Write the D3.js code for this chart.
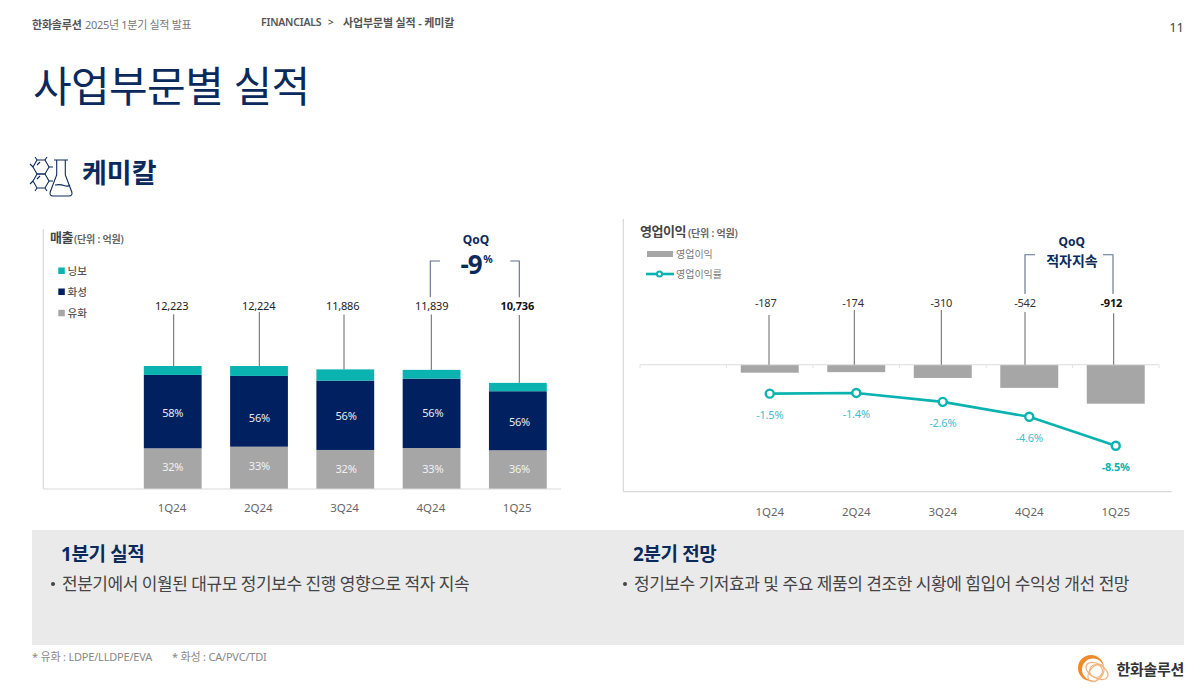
<!DOCTYPE html>
<html lang="ko">
<head>
<meta charset="utf-8">
<title>사업부문별 실적</title>
<script src="https://cdn.jsdelivr.net/npm/d3@7"></script>
<style>
	html, body { margin: 0; padding: 0; background: #fff; }
	svg { display: block; }
	text { font-family: "Noto Sans", "Noto Sans CJK KR", sans-serif; }
</style>
</head>
<body>
<svg id="chart" width="1204" height="700"></svg>
<script>
"use strict";

// 공통 분기
var salesCategories = ['', '1Q24', '2Q24', '3Q24', '4Q24', '1Q25'];
var quarters = ['1Q24', '2Q24', '3Q24', '4Q24', '1Q25'];

// 매출 (단위: 억원), 막대 높이에서 읽은 값
var petroValues = [4045, 4205, 3880, 4075, 3850];
var chemValues = [7290, 7030, 6890, 6890, 5865];
var nbValues = [888, 989, 1116, 874, 830];
var salesTotals = ['12,223', '12,224', '11,886', '11,839', '10,736'];
var petroShare = ['32%', '33%', '32%', '33%', '36%'];
var chemShare = ['58%', '56%', '56%', '56%', '56%'];

// 영업이익
var profitValues = [-187, -174, -310, -542, -912];
var marginValues = [-1.5, -1.4, -2.6, -4.6, -8.5];
var marginLabels = ['-1.5%', '-1.4%', '-2.6%', '-4.6%', '-8.5%'];

var TEAL = '#0ab3b0';
var NAVY = '#00205f';
var GRAY = '#a6a6a6';
var TITLE = '#0b2a5c';
var BRACKET = '#5f6f8c';
var AXIS = '#d9d9d9';

var svg = d3.select('#chart');

function label(parent, x, y, str, size, fill, weight, anchor, spacing) {
	return parent.append('text')
		.attr('x', x)
		.attr('y', y)
		.attr('dominant-baseline', 'central')
		.attr('text-anchor', anchor || 'start')
		.attr('font-size', size)
		.attr('font-weight', weight || 400)
		.attr('letter-spacing', spacing || 0)
		.attr('fill', fill)
		.text(str);
}

function rule(parent, x1, y1, x2, y2, color, width) {
	parent.append('line')
		.attr('x1', x1).attr('y1', y1)
		.attr('x2', x2).attr('y2', y2)
		.attr('stroke', color)
		.attr('stroke-width', width || 1);
}

function bracket(parent, x1, inner1, x2, inner2, top, bottom) {
	var line = d3.line();
	[[inner1, x1], [inner2, x2]].forEach(function (pair) {
		parent.append('path')
			.attr('d', line([[pair[0], top], [pair[1], top], [pair[1], bottom]]))
			.attr('fill', 'none')
			.attr('stroke', BRACKET)
			.attr('stroke-width', 1.1);
	});
}

function drawHeader() {
	var g = svg.append('g');
	label(g, 32, 24, '한화솔루션', 11, '#555', 700, 'start', -0.2);
	label(g, 85, 24, '2025년 1분기 실적 발표', 11, '#777', 400, 'start', -0.3);
	label(g, 261, 22, 'FINANCIALS', 10.5, '#555', 600, 'start', -0.2);
	label(g, 328, 22, '>', 10, '#555', 600);
	label(g, 343, 22, '사업부문별 실적 - 케미칼', 11, '#555', 700, 'start', -0.15);
	label(g, 1184, 27, '11', 13, '#444', 400, 'end');
	label(g, 33, 85, '사업부문별 실적', 42, TITLE, 400, 'start', -0.6);
	label(g, 82, 172, '케미칼', 27, TITLE, 700);
	drawFlaskIcon(g);
}

function drawFlaskIcon(g) {
	var icon = g.append('g')
		.attr('fill', 'none')
		.attr('stroke', TITLE)
		.attr('stroke-width', 1.1);
	[[41, 167], [41, 181]].forEach(function (c) {
		var pts = d3.range(6).map(function (i) {
			var a = i * Math.PI / 3;
			return [c[0] + 8 * Math.cos(a), c[1] + 8 * Math.sin(a)];
		});
		icon.append('path').attr('d', d3.line().curve(d3.curveLinearClosed)(pts));
	});
	// 분자 결합선
	icon.append('path').attr('d', 'M37 160l-2-3M45 160l2-3M49 167h4M33 167l-3-3M33 181l-3 3M49 181h4M37 188l-2 3M45 188l2 3M37 165l3-3M37 179l3-3');
	icon.append('path').attr('d', 'M54 160h14M56.700 160v15l-6.500 17q-1 4 3 4h15.600q4 0 3-4l-6.500-17v-15M55 185q5-1 9 .500t6-.500');
}

function drawSalesChart() {
	var g = svg.append('g').attr('class', 'sales');
	var baseY = 489;

	var x = d3.scaleBand()
		.domain(salesCategories)
		.range([43.3, 561])
		.paddingInner(0.33)
		.paddingOuter(0.165);
	var y = d3.scaleLinear().domain([0, 12223]).range([baseY, 366]);

	// 수동으로 옮겨진 라벨 오프셋
	var chemNudge = [1, 6, 0, -1, 1];
	var petroNudge = [-2, -2, -1, 0, -1];
	var totalTop = [314.3, 312, 314.5, 314.5, 315];
	var leaderX = [173.7, 259.3, 344, 431.3, 519.3];
	var totalX = [171.7, 258.7, 342.7, 431.7, 517.3];

	var rows = quarters.map(function (q, i) {
		return { quarter: q, petro: petroValues[i], chem: chemValues[i], nb: nbValues[i] };
	});
	var stacked = d3.stack().keys(['petro', 'chem', 'nb'])(rows);
	var colors = { petro: GRAY, chem: NAVY, nb: TEAL };

	g.selectAll('g.layer')
		.data(stacked)
		.enter().append('g')
		.attr('class', 'layer')
		.attr('fill', function (d) { return colors[d.key]; })
		.selectAll('rect')
		.data(function (d) { return d; })
		.enter().append('rect')
		.attr('x', function (d) { return x(d.data.quarter); })
		.attr('width', x.bandwidth())
		.attr('y', function (d) { return y(d[1]); })
		.attr('height', function (d) { return y(d[0]) - y(d[1]); });

	quarters.forEach(function (q, i) {
		var cx = x(q) + x.bandwidth() / 2;
		var top = y(stacked[2][i][1]);
		rule(g, leaderX[i], totalTop[i], leaderX[i], top, '#666', 1);
		label(g, totalX[i], 305.5, salesTotals[i], 11, i === 4 ? '#111' : '#222', i === 4 ? 700 : 400, 'middle', -0.2);
		label(g, cx + i * 0.4, (y(stacked[1][i][0]) + y(stacked[1][i][1])) / 2 + chemNudge[i], chemShare[i], 11, '#e8ebf2', 400, 'middle', -0.2);
		label(g, cx + i * 0.4, (y(stacked[0][i][0]) + y(stacked[0][i][1])) / 2 + petroNudge[i], petroShare[i], 11, '#f2f2f2', 400, 'middle', -0.2);
	});

	// 축
	rule(g, 43.3, 229, 43.3, baseY, AXIS, 1.2);
	rule(g, 43.3, baseY, 561, baseY, AXIS, 1.2);
	var axis = d3.axisBottom(x).tickValues(quarters).tickSize(0).tickPadding(0);
	var axisG = g.append('g').attr('transform', 'translate(-0.7,' + 507 + ')').call(axis);
	axisG.select('.domain').remove();
	axisG.selectAll('text')
		.attr('y', 0).attr('dy', 0)
		.attr('dominant-baseline', 'central')
		.attr('font-size', 11.5)
		.attr('fill', '#666');

	// 범례
	label(g, 50, 237, '매출', 13, '#444', 700, 'start', -0.5);
	label(g, 74, 239, '(단위 : 억원)', 10, '#666', 600, 'start', -0.2);
	[['닝보', TEAL, 270.7], ['화성', NAVY, 291.7], ['유화', GRAY, 313]].forEach(function (item) {
		g.append('rect')
			.attr('x', 58.3).attr('y', item[2] - 3.2)
			.attr('width', 6.5).attr('height', 6.5)
			.attr('fill', item[1]);
		label(g, 67.5, item[2], item[0], 10.5, '#555', 500);
	});

	// QoQ
	bracket(g, 430.3, 440, 519.3, 510.3, 261, 297.3);
	label(g, 476, 239, 'QoQ', 12, TITLE, 700, 'middle');
	label(g, 471, 263.500, '-9', 26, TITLE, 700, 'middle', -1);
	label(g, 488, 259, '%', 10.5, TITLE, 700, 'middle');
}

function drawProfitChart() {
	var g = svg.append('g').attr('class', 'profit');
	var zeroY = 364.7;

	var x = d3.scaleBand()
		.domain(salesCategories)
		.range([640, 1159])
		.paddingInner(0.33)
		.paddingOuter(0.165);
	var y = d3.scaleLinear().domain([0, -912]).range([zeroY, 403.7]);
	var yMargin = d3.scaleLinear().domain([0, -8.5]).range([382.5, 445.8]);

	var valueX = [765.7, 853, 941.3, 1025, 1111.3];
	var leaderX = [769, 854.3, 941.3, 1025, 1113.7];
	var leaderTop = [315, 310, 310, 312, 313.3];

	// 프레임
	rule(g, 623.3, 219, 623.3, 491.7, AXIS, 1.2);
	rule(g, 623.3, 491.7, 1171.7, 491.7, AXIS, 1.2);

	g.selectAll('rect.bar')
		.data(profitValues)
		.enter().append('rect')
		.attr('class', 'bar')
		.attr('x', function (d, i) { return x(quarters[i]); })
		.attr('width', x.bandwidth())
		.attr('y', y(0))
		.attr('height', function (d) { return y(d) - y(0); })
		.attr('fill', GRAY);

	// 0 축과 눈금
	rule(g, 640, zeroY, 1159, zeroY, '#e3e3e3', 1.2);
	x.domain().concat(['end']).forEach(function (d, i) {
		var tx = 640 + i * x.step();
		rule(g, tx, zeroY, tx, zeroY + 3.5, '#e3e3e3', 1);
	});

	quarters.forEach(function (q, i) {
		rule(g, leaderX[i], leaderTop[i], leaderX[i], zeroY, '#666', 1);
		label(g, valueX[i], 302.5, d3.format('d')(profitValues[i]).replace('−', '-'), 11, i === 4 ? '#111' : '#333', i === 4 ? 700 : 400, 'middle', -0.2);
	});

	var cx = function (d, i) { return x(quarters[i]) + x.bandwidth() / 2; };
	var line = d3.line().x(cx).y(function (d) { return yMargin(d); });

	g.append('path')
		.attr('d', line(marginValues))
		.attr('fill', 'none')
		.attr('stroke', TEAL)
		.attr('stroke-width', 2.6);

	g.selectAll('circle.point')
		.data(marginValues)
		.enter().append('circle')
		.attr('class', 'point')
		.attr('cx', cx)
		.attr('cy', function (d) { return yMargin(d); })
		.attr('r', 4)
		.attr('fill', '#fff')
		.attr('stroke', TEAL)
		.attr('stroke-width', 2.4);

	marginLabels.forEach(function (str, i) {
		var last = i === 4;
		label(g, cx(null, i), yMargin(marginValues[i]) + 20.7, str, 11, last ? TEAL : '#45bccb', last ? 700 : 400, 'middle', -0.2);
	});

	var axis = d3.axisBottom(x).tickValues(quarters).tickSize(0).tickPadding(0);
	var axisG = g.append('g').attr('transform', 'translate(0,' + 511.500 + ')').call(axis);
	axisG.select('.domain').remove();
	axisG.selectAll('text')
		.attr('y', 0).attr('dy', 0)
		.attr('dominant-baseline', 'central')
		.attr('font-size', 11.5)
		.attr('fill', '#666');

	// 범례
	label(g, 640, 231, '영업이익', 13, '#444', 700, 'start', -0.5);
	label(g, 688, 233, '(단위 : 억원)', 10, '#666', 600, 'start', -0.2);
	g.append('rect').attr('x', 647).attr('y', 251).attr('width', 26).attr('height', 6).attr('fill', GRAY);
	label(g, 676, 254, '영업이익', 10, '#777', 400);
	rule(g, 646, 274, 674, 274, TEAL, 2.6);
	g.append('circle').attr('cx', 659.5).attr('cy', 274).attr('r', 2.6)
		.attr('fill', '#fff').attr('stroke', TEAL).attr('stroke-width', 2);
	label(g, 676, 274, '영업이익률', 10, '#777', 400);

	// QoQ
	bracket(g, 1025, 1035, 1113, 1103, 254.7, 294);
	label(g, 1071.7, 241, 'QoQ', 12, TITLE, 700, 'middle');
	label(g, 1072, 260, '적자지속', 14, TITLE, 700, 'middle');
}

function drawFooter() {
	var g = svg.append('g');
	g.append('rect').attr('x', 32).attr('y', 530).attr('width', 1152).attr('height', 115).attr('fill', '#eaeaea');

	label(g, 61, 554, '1분기 실적', 19, TITLE, 700, 'start', -0.4);
	g.append('circle').attr('cx', 53).attr('cy', 584).attr('r', 2).attr('fill', '#444');
	label(g, 62, 583, '전분기에서 이월된 대규모 정기보수 진행 영향으로 적자 지속', 17, '#444', 400, 'start', -0.46);

	label(g, 633, 554, '2분기 전망', 19, TITLE, 700, 'start', -0.4);
	g.append('circle').attr('cx', 625).attr('cy', 584).attr('r', 2).attr('fill', '#444');
	label(g, 634, 583, '정기보수 기저효과 및 주요 제품의 견조한 시황에 힘입어 수익성 개선 전망', 17, '#444', 400, 'start', -0.46);

	label(g, 32, 656, '* 유화 : LDPE/LLDPE/EVA', 11, '#888', 400, 'start', -0.2);
	label(g, 172, 656, '* 화성 : CA/PVC/TDI', 11, '#888', 400, 'start', -0.2);

	// 로고: 왼쪽 위가 두꺼운 초승달과 옅은 고리
	var logo = g.append('g').attr('transform', 'translate(1091,668)').attr('fill', 'none');
	var ring = d3.path();
	ring.arc(0, 0, 13, 0, Math.PI * 2);
	ring.moveTo(13, 1.5);
	ring.arc(2, 1.5, 11, 0, Math.PI * 2);
	logo.append('path').attr('d', ring.toString()).attr('fill', '#ee8a2c').attr('fill-rule', 'evenodd');
	[[12, 7, 30, 6, 3], [10, 6.5, -50, 5, 5], [6.5, 6.5, 0, 5, 3]].forEach(function (r) {
		logo.append('ellipse')
			.attr('rx', r[0]).attr('ry', r[1])
			.attr('transform', 'translate(' + r[3] + ',' + r[4] + ') rotate(' + r[2] + ')')
			.attr('stroke', '#f3b27a')
			.attr('stroke-width', 1.2);
	});
	label(g, 1184, 669, '한화솔루션', 15, '#333', 700, 'end', -0.3);
}

drawHeader();
drawSalesChart();
drawProfitChart();
drawFooter();
</script>
</body>
</html>
